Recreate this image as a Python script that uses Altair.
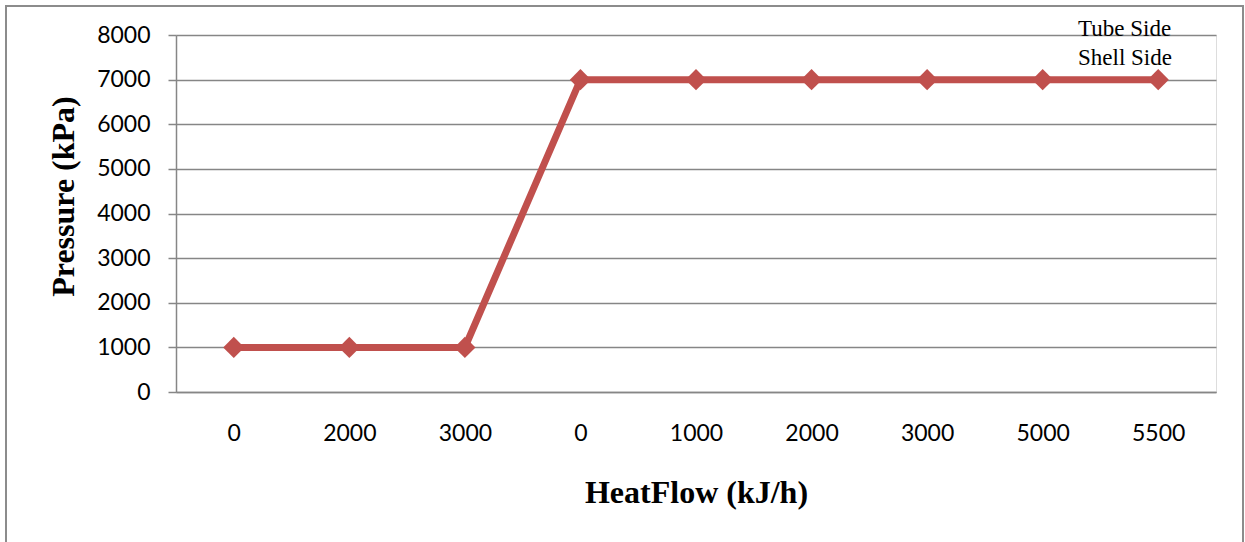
import json
import altair as alt
import pandas as pd

x_labels = ["0", "2000", "3000", "0", "1000", "2000", "3000", "5000", "5500"]
shell_side = [1000, 1000, 1000, 7000, 7000, 7000, 7000, 7000, 7000]
series_names = ["Tube Side", "Shell Side"]

df = pd.DataFrame({
    "idx": list(range(len(x_labels))),
    "pressure": shell_side,
    "series": ["Shell Side"] * len(x_labels),
})

RED = "#C0504D"
GRID = "#868686"
label_expr = json.dumps(x_labels) + "[datum.value]"

W, H = 1040, 357

frame = alt.Chart(pd.DataFrame({"a": [0]})).mark_rect(
    fill=None, stroke="#8c8c8c", strokeWidth=2, clip=False
).encode(
    x=alt.value(-170), x2=alt.value(1067), y=alt.value(-29), y2=alt.value(530)
)

base = alt.Chart(df).encode(
    x=alt.X(
        "idx:O",
        title="HeatFlow (kJ/h)",
        scale=alt.Scale(paddingInner=0, paddingOuter=0),
        axis=alt.Axis(
            labelExpr=label_expr, labelAngle=0, labelFont="Lato", labelFontSize=23,
            labelColor="black", labelPadding=30, ticks=False, domainColor=GRID,
            domainWidth=1.5, grid=False,
            titleFont="Liberation Serif", titleFontSize=32, titleFontWeight="bold",
            titleColor="black", titlePadding=32,
        ),
    ),
    y=alt.Y(
        "pressure:Q",
        title="Pressure (kPa)",
        scale=alt.Scale(domain=[0, 8000], nice=False),
        axis=alt.Axis(
            values=list(range(0, 8001, 1000)), format="d", labelFont="Lato",
            labelFontSize=23, labelColor="black", labelPadding=18, tickSize=8,
            tickColor=GRID, tickWidth=1.5, domainColor=GRID, domainWidth=1.5,
            gridColor=GRID, gridWidth=1.5, titleFont="Liberation Serif",
            titleFontSize=32, titleFontWeight="bold", titleColor="black",
            titlePadding=16, titleY=161,
        ),
    ),
    color=alt.Color(
        "series:N",
        scale=alt.Scale(domain=series_names, range=[RED, RED]),
        legend=alt.Legend(
            title=None, orient="none", legendX=879, legendY=-18,
            symbolOpacity=0, symbolSize=0, symbolStrokeWidth=0, labelOffset=0,
            labelFont="Liberation Serif", labelFontSize=23, labelColor="black",
            rowPadding=5, labelLimit=200,
        ),
    ),
)

line = base.mark_line(strokeWidth=7)
points = base.mark_point(shape="diamond", filled=True, size=450, opacity=1)

chart = alt.layer(frame, line, points).properties(
    width=W, height=H,
    padding={"left": 176, "top": 35, "right": 29, "bottom": 150},
    autosize=alt.AutoSizeParams(type="none"),
).configure_view(stroke=None).configure(background="white")

chart.save("out.html", embed_options={"renderer": "svg", "actions": False})
